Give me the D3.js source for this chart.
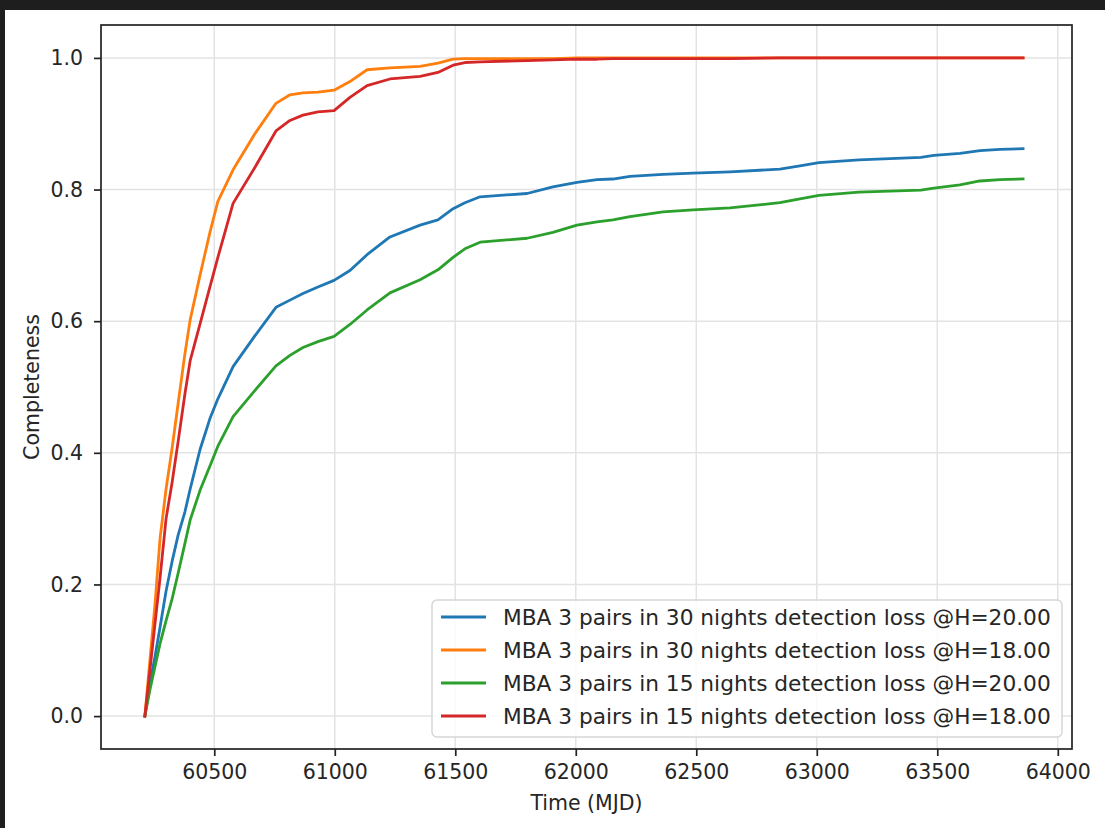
<!DOCTYPE html>
<html>
<head>
<meta charset="utf-8">
<script src="https://cdn.jsdelivr.net/npm/d3@7"></script>
<style>
  html, body { margin: 0; padding: 0; background: #1e1e1e; }
  svg { display: block; }
  text { font-family: "DejaVu Sans", sans-serif; fill: #262626; }
</style>
</head>
<body>
<svg id="chart" width="1105" height="828"></svg>
<script>
// Time grid (MJD) shared by all four completeness curves
const mjd = [60212, 60233, 60254, 60275, 60300, 60325, 60350, 60378, 60400, 60441,
             60482, 60515, 60578, 60669, 60756, 60814, 60868, 60930, 60997, 61063,
             61134, 61229, 61354, 61428, 61491, 61540, 61603, 61798, 61905, 62005,
             62088, 62154, 62225, 62362, 62486, 62640, 62847, 62930, 63009, 63175,
             63432, 63486, 63594, 63677, 63760, 63856];

// 3 pairs in 30 nights, H=20
const pairs30H20 = [0, .05, .09, .135, .19, .235, .275, .31, .345, .405,
                    .452, .482, .531, .578, .621, .632, .642, .652, .662, .677,
                    .701, .728, .746, .754, .771, .780, .789, .794, .804, .811,
                    .815, .816, .820, .823, .825, .827, .831, .836, .841, .845,
                    .849, .852, .855, .859, .861, .862];
// 3 pairs in 30 nights, H=18
const pairs30H18 = [0, .085, .17, .27, .345, .407, .475, .55, .602, .67,
                    .735, .782, .83, .885, .931, .944, .947, .948, .951, .964,
                    .982, .985, .987, .992, .998, .999, .999, .999, .999, 1,
                    1, 1, 1, 1, 1, 1, 1, 1, 1, 1,
                    1, 1, 1, 1, 1, 1];
// 3 pairs in 15 nights, H=20
const pairs15H20 = [0, .04, .075, .11, .145, .178, .217, .262, .298, .343,
                    .38, .41, .455, .495, .532, .548, .56, .569, .577, .595,
                    .617, .643, .663, .678, .697, .71, .72, .726, .735, .746,
                    .751, .754, .759, .766, .769, .772, .780, .786, .791, .796,
                    .799, .802, .807, .813, .815, .816];
// 3 pairs in 15 nights, H=18
const pairs15H18 = [0, .07, .14, .21, .30, .355, .417, .489, .54, .596,
                    .652, .697, .779, .834, .889, .905, .913, .918, .920, .940,
                    .958, .968, .972, .978, .989, .993, .994, .996, .997, .998,
                    .998, .999, .999, .999, .999, .999, 1, 1, 1, 1,
                    1, 1, 1, 1, 1, 1];

const seriesNames = [
  "MBA 3 pairs in 30 nights detection loss @H=20.00",
  "MBA 3 pairs in 30 nights detection loss @H=18.00",
  "MBA 3 pairs in 15 nights detection loss @H=20.00",
  "MBA 3 pairs in 15 nights detection loss @H=18.00"
];
const seriesValues = [pairs30H20, pairs30H18, pairs15H20, pairs15H18];
const seriesColors = ["#1f77b4", "#ff7f0e", "#2ca02c", "#d62728"];

const xTicks = [60500, 61000, 61500, 62000, 62500, 63000, 63500, 64000];
const yTicks = [0, 0.2, 0.4, 0.6, 0.8, 1.0];

const svg = d3.select("#chart");

// page canvas: white sheet with a dark strip along the top and left
svg.append("rect").attr("x", 0).attr("y", 0).attr("width", 1105).attr("height", 828).attr("fill", "#1e1e1e");
svg.append("rect").attr("x", 5).attr("y", 10).attr("width", 1100).attr("height", 818).attr("fill", "#ffffff");

const plot = { left: 101, right: 1072, top: 25, bottom: 749 };

const x = d3.scaleLinear().domain([60030, 64059]).range([plot.left, plot.right]);
const y = d3.scaleLinear().domain([-0.05, 1.05]).range([plot.bottom, plot.top]);

// grid
const grid = svg.append("g");
grid.selectAll("line.gx").data(xTicks).enter().append("line")
  .attr("x1", d => x(d)).attr("x2", d => x(d))
  .attr("y1", plot.top).attr("y2", plot.bottom)
  .attr("stroke", "#e3e3e3").attr("stroke-width", 1.5);
grid.selectAll("line.gy").data(yTicks).enter().append("line")
  .attr("x1", plot.left).attr("x2", plot.right)
  .attr("y1", d => y(d)).attr("y2", d => y(d))
  .attr("stroke", "#e3e3e3").attr("stroke-width", 1.5);

// curves
const line = d3.line().x((d, i) => x(mjd[i])).y(d => y(d));
seriesValues.forEach((vals, k) => {
  svg.append("path")
    .attr("d", line(vals))
    .attr("fill", "none")
    .attr("stroke", seriesColors[k])
    .attr("stroke-width", 2.8)
    .attr("stroke-linejoin", "round")
    .attr("stroke-linecap", "square");
});

// axes
const xAxis = d3.axisBottom(x).tickValues(xTicks).tickFormat(d3.format("d"))
  .tickSizeInner(7).tickSizeOuter(0).tickPadding(8);
const yAxis = d3.axisLeft(y).tickValues(yTicks).tickFormat(d3.format(".1f"))
  .tickSizeInner(7).tickSizeOuter(0).tickPadding(11);

const gx = svg.append("g").attr("transform", `translate(0,${plot.bottom})`).call(xAxis);
const gy = svg.append("g").attr("transform", `translate(${plot.left},0)`).call(yAxis);
[gx, gy].forEach(g => {
  g.select(".domain").remove();
  g.selectAll(".tick line").attr("stroke", "#222").attr("stroke-width", 1.7);
  g.selectAll(".tick text").attr("font-size", 20.5).attr("fill", "#262626")
    .style("font-family", "'DejaVu Sans', sans-serif");
});

// frame
svg.append("rect")
  .attr("x", plot.left).attr("y", plot.top)
  .attr("width", plot.right - plot.left).attr("height", plot.bottom - plot.top)
  .attr("fill", "none").attr("stroke", "#222").attr("stroke-width", 1.7);

// axis titles
svg.append("text")
  .attr("x", (plot.left + plot.right) / 2).attr("y", 810)
  .attr("text-anchor", "middle").attr("font-size", 20.5)
  .text("Time (MJD)");
svg.append("text")
  .attr("transform", `translate(39,${(plot.top + plot.bottom) / 2}) rotate(-90)`)
  .attr("text-anchor", "middle").attr("font-size", 20.5)
  .text("Completeness");

// legend
const lg = svg.append("g");
const lgBox = { x: 432, y: 600, w: 630, h: 137 };
lg.append("rect")
  .attr("x", lgBox.x).attr("y", lgBox.y).attr("width", lgBox.w).attr("height", lgBox.h)
  .attr("rx", 5).attr("fill", "rgba(255,255,255,0.85)")
  .attr("stroke", "#d6d6d6").attr("stroke-width", 1.5);
seriesNames.forEach((name, k) => {
  const cy = 617 + k * 33;
  lg.append("line")
    .attr("x1", 441).attr("x2", 486).attr("y1", cy).attr("y2", cy)
    .attr("stroke", seriesColors[k]).attr("stroke-width", 2.8);
  lg.append("text")
    .attr("x", 503).attr("y", cy).attr("dy", "0.36em")
    .attr("font-size", 21.7)
    .text(name);
});
</script>
</body>
</html>
